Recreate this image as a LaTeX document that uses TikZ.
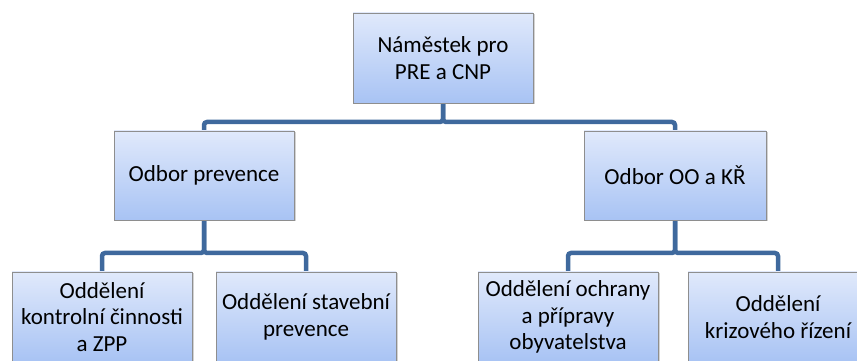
\documentclass[tikz,border=0pt]{standalone}
\usepackage{fontspec}
\setmainfont{Carlito}
\usetikzlibrary{shadows,backgrounds}
\definecolor{boxtop}{HTML}{E0E9FB}
\definecolor{boxbot}{HTML}{A8C3F4}
\definecolor{boxline}{HTML}{8E8E8E}
\definecolor{linkblue}{HTML}{3F699D}
\tikzset{
  unitbox/.style={draw=boxline, line width=0.8pt, top color=boxtop, bottom color=boxbot,
    minimum width=180pt, minimum height=90pt, align=center, inner sep=2pt,
    font=\fontsize{23}{26.5}\selectfont,
    drop shadow={shadow xshift=1.5pt, shadow yshift=-1.5pt, opacity=0.35}},
  link/.style={draw=linkblue, line width=4.5pt, rounded corners=3pt}
}
\begin{document}
\begin{tikzpicture}[x=1pt,y=1pt]
\useasboundingbox (0,0) rectangle (857,361);
\clip (0,0) rectangle (857,361);
% heights of the two horizontal branch bars
\coordinate (bar1) at (0,239);
\coordinate (bar2) at (0,108);
\node[unitbox] (head) at (443,303) {Náměstek pro\\PRE a CNP};
\node[unitbox, minimum height=89pt] (prev) at (204,185.5) {Odbor prevence};
\node[unitbox, minimum width=182pt, minimum height=89pt] (ookr) at (675,185.5) {Odbor OO a KŘ};
\node[unitbox] (kont) at (102,44) {Oddělení\\kontrolní činnosti\\a ZPP};
\node[unitbox] (stav) at (306,44) {Oddělení stavební\\prevence};
\node[unitbox] (ochr) at (568,44) {Oddělení ochrany\\a přípravy\\obyvatelstva};
\node[unitbox] (kriz) at (778,44) {Oddělení\\krizového řízení};
% connectors sit behind the boxes
\begin{pgfonlayer}{background}
\draw[link] (head.south) -- (head.south |- bar1) -| (prev.north);
\draw[link] (head.south) -- (head.south |- bar1) -| (ookr.north);
\draw[link] (prev.south) -- (prev.south |- bar2) -| (kont.north);
\draw[link] (prev.south) -- (prev.south |- bar2) -| (stav.north);
\draw[link] (ookr.south) -- (ookr.south |- bar2) -| (ochr.north);
\draw[link] (ookr.south) -- (ookr.south |- bar2) -| (kriz.north);
\end{pgfonlayer}
\end{tikzpicture}
\end{document}
